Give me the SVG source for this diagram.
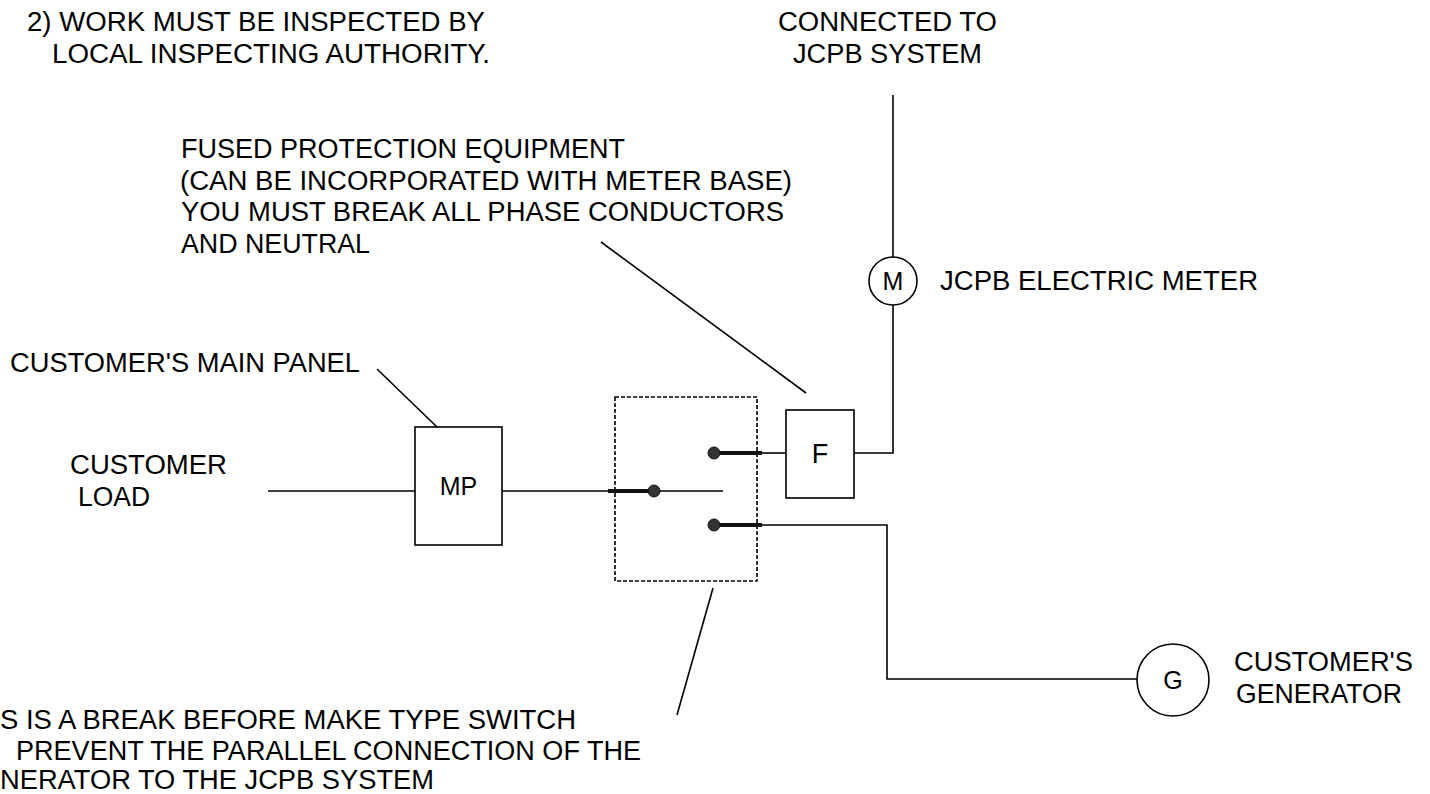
<svg xmlns="http://www.w3.org/2000/svg" width="1430" height="794" viewBox="0 0 1430 794">
<style>
text{font-family:"Liberation Sans",Arial,sans-serif;font-size:27px;fill:#000}
.sym{font-size:25px}
.ln{stroke:#000;stroke-width:1.6;fill:none}
.box{stroke:#000;stroke-width:1.6;fill:#fff}
.thick{stroke:#111;stroke-width:4;fill:none}
.dot{fill:#333;stroke:#111;stroke-width:1}
.dash{stroke:#000;stroke-width:1.6;fill:none;stroke-dasharray:4 2}
.c{text-anchor:middle}
</style>
<rect width="1430" height="794" fill="#fff"/>
<g id="notes">
<text x="27" y="30.5" textLength="458" lengthAdjust="spacingAndGlyphs">2) WORK MUST BE INSPECTED BY</text>
<text x="52" y="62.5" textLength="438" lengthAdjust="spacingAndGlyphs">LOCAL INSPECTING AUTHORITY.</text>
</g>
<g id="label-system">
<text x="778" y="30.5" textLength="219" lengthAdjust="spacingAndGlyphs">CONNECTED TO</text>
<text x="793" y="62.5" textLength="189" lengthAdjust="spacingAndGlyphs">JCPB SYSTEM</text>
</g>
<g id="label-fused">
<text x="181" y="158" textLength="444" lengthAdjust="spacingAndGlyphs">FUSED PROTECTION EQUIPMENT</text>
<text x="180" y="189.5" textLength="612" lengthAdjust="spacingAndGlyphs">(CAN BE INCORPORATED WITH METER BASE)</text>
<text x="181" y="221" textLength="603" lengthAdjust="spacingAndGlyphs">YOU MUST BREAK ALL PHASE CONDUCTORS</text>
<text x="181" y="252.5" textLength="189" lengthAdjust="spacingAndGlyphs">AND NEUTRAL</text>
</g>
<g id="label-meter">
<text x="940" y="290" textLength="318" lengthAdjust="spacingAndGlyphs">JCPB ELECTRIC METER</text>
</g>
<g id="label-panel">
<text x="10" y="372" textLength="350" lengthAdjust="spacingAndGlyphs">CUSTOMER'S MAIN PANEL</text>
</g>
<g id="label-load">
<text x="70" y="474" textLength="157" lengthAdjust="spacingAndGlyphs">CUSTOMER</text>
<text x="78" y="506" textLength="72" lengthAdjust="spacingAndGlyphs">LOAD</text>
</g>
<g id="label-generator">
<text x="1234" y="671" textLength="179" lengthAdjust="spacingAndGlyphs">CUSTOMER'S</text>
<text x="1236" y="703" textLength="166" lengthAdjust="spacingAndGlyphs">GENERATOR</text>
</g>
<g id="label-switch">
<text x="0" y="729" textLength="576" lengthAdjust="spacingAndGlyphs">S IS A BREAK BEFORE MAKE TYPE SWITCH</text>
<text x="16" y="760" textLength="625" lengthAdjust="spacingAndGlyphs">PREVENT THE PARALLEL CONNECTION OF THE</text>
<text x="0" y="789" textLength="434" lengthAdjust="spacingAndGlyphs">NERATOR TO THE JCPB SYSTEM</text>
</g>
<g id="connectors">
<line class="ln" x1="893" y1="95" x2="893" y2="257"/>
<polyline class="ln" points="893,305 893,453 854,453"/>
<line class="ln" x1="268" y1="491" x2="415" y2="491"/>
<line class="ln" x1="502" y1="491" x2="723" y2="491"/>
<line class="ln" x1="762" y1="453" x2="786" y2="453"/>
<polyline class="ln" points="762,525 887,525 887,679 1137,679"/>
<line class="ln" x1="377" y1="369" x2="437" y2="427"/>
<line class="ln" x1="601" y1="242" x2="806" y2="393"/>
<line class="ln" x1="713" y1="588" x2="677" y2="715"/>
</g>
<g id="meter">
<circle class="box" cx="893" cy="281" r="24"/>
<text class="c sym" x="893" y="290">M</text>
</g>
<g id="fuse">
<rect class="box" x="786" y="410" width="68" height="88"/>
<text class="c" x="820" y="463">F</text>
</g>
<g id="main-panel">
<rect class="box" x="415" y="427" width="87" height="118"/>
<text class="c sym" x="458.5" y="495">MP</text>
</g>
<g id="transfer-switch">
<rect class="dash" x="615" y="397" width="142" height="184"/>
<line class="thick" x1="608" y1="491" x2="654" y2="491"/>
<circle class="dot" cx="654" cy="491" r="6"/>
<line class="thick" x1="714" y1="453" x2="762" y2="453"/>
<circle class="dot" cx="714" cy="453" r="6"/>
<line class="thick" x1="714" y1="525" x2="762" y2="525"/>
<circle class="dot" cx="714" cy="525" r="6"/>
</g>
<g id="generator">
<circle class="box" cx="1173" cy="680" r="36"/>
<text class="c sym" x="1173" y="689">G</text>
</g>
</svg>
